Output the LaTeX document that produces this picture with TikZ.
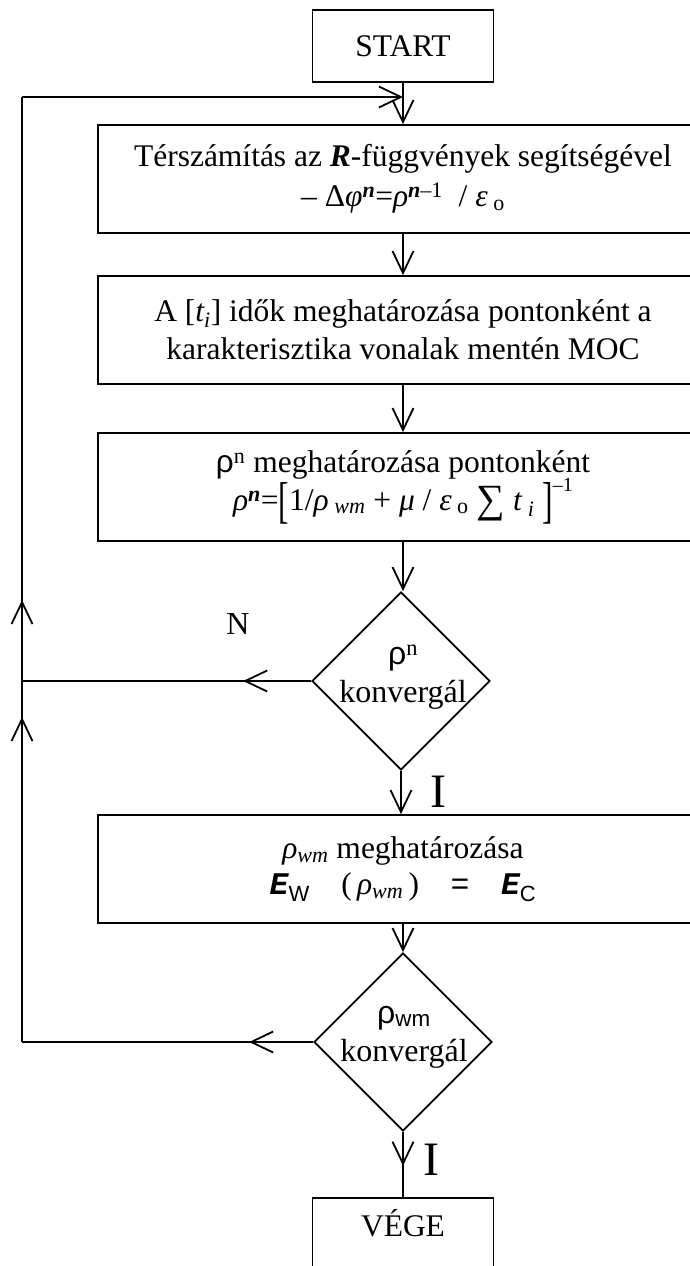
\documentclass[tikz,border=0pt]{standalone}
\usepackage{graphicx}
\usepackage{fontspec}
\setmainfont{Liberation Serif}
\setsansfont{Liberation Sans}
\setmonofont{Liberation Mono}
\usetikzlibrary{shapes.geometric,arrows.meta,decorations.markings}
\newcommand{\tallbr}[1]{\raisebox{-0.22em}{\scalebox{1}[1.6]{#1}}}
\begin{document}
\begin{tikzpicture}[x=1pt,y=-1pt,
  line width=1.8pt,
  >={Straight Barb[length=22pt,width=21pt]},
  txt/.style={font=\fontsize{32}{38}\selectfont, align=center, inner sep=0pt},
  stepbox/.style={draw, rectangle, minimum width=610pt, minimum height=108pt, inner sep=0pt, font=\fontsize{31.5}{38}\selectfont, align=center},
  termbox/.style={draw, rectangle, minimum width=181pt, minimum height=72pt, inner sep=0pt, font=\fontsize{31.5}{37}\selectfont, align=center},
  decbox/.style={draw, diamond, minimum width=178pt, minimum height=178pt, inner sep=0pt},
  midarrow/.style={postaction={decorate}, decoration={markings, mark=at position #1 with {\arrow{>}}}}
]
\useasboundingbox (0,0) rectangle (690,1266);
% terminals
\node[termbox] (start) at (403,46) {START};
\node[termbox, anchor=north, text height=22pt, text depth=16pt] (vege) at (403,1197) {VÉGE};
% process boxes
\node[stepbox] (b1) at (403,179) {Térszámítás az \textbf{\textit{R}}-függvények segítségével\\[2pt]
  –~Δ\textit{φ}\textsuperscript{\textbf{\textit{n}}}=\textit{ρ}\textsuperscript{\textbf{\textit{n}}–1}~~/~\textit{ε}\textsubscript{~o}};
\node[stepbox] (b2) at (403,330) {A [\textit{t\textsubscript{i}}] idők meghatározása pontonként a\\
  karakterisztika vonalak mentén MOC};
\node[stepbox] (b3) at (403,487) {{\sffamily ρ}\textsuperscript{n} meghatározása pontonként\\[-2pt]
  \textit{ρ}\textsuperscript{\textbf{\textit{n}}}=\tallbr{[}1/\textit{ρ}\textsubscript{~\textit{wm}} + \textit{μ} / \textit{ε}\textsubscript{~o}~{\fontsize{40}{40}\selectfont\raisebox{-0.05em}{∑}}~\textit{t}\textsubscript{~\textit{i}}~\tallbr{]}\raisebox{0.6em}{\fontsize{20}{20}\selectfont –1}};
\node[stepbox] (b4) at (403,869) {\textit{ρ\textsubscript{wm}} meghatározása\\[-2pt]
  {\bfseries\itshape\ttfamily E}\textsubscript{\sffamily W}\quad(\,\textit{ρ\textsubscript{wm}}\,)\quad{\ttfamily =}\quad{\bfseries\itshape\ttfamily E}\textsubscript{\sffamily C}};
% decisions
\node[decbox] (d1) at (401,681) {};
\node[txt] (d1t) at (403,677) {{\sffamily ρ}\textsuperscript{n}\\konvergál};
\node[decbox] (d2) at (403,1042) {};
\node[txt] (d2t) at (404,1037) {{\sffamily ρ\textsubscript{wm}}\\konvergál};
% labels
\node[txt] (lN) at (238,624) {N};
\node[txt, font=\fontsize{48}{48}\selectfont] (lI1) at (438,792) {I};
\node[txt, font=\fontsize{48}{48}\selectfont] (lI2) at (431,1160) {I};
% coordinates of the loop
\coordinate (TL) at (22,97);
\coordinate (J) at (start.south |- TL);
\coordinate (ML) at (d1.west -| TL);
\coordinate (BL) at (d2.west -| TL);
% main flow
\draw[->] (start) -- (b1);
\draw[->] (b1) -- (b2);
\draw[->] (b2) -- (b3);
\draw[->] (b3.south) -- (b3.south |- d1.north);
\draw[->] (d1.south) -- (d1.south |- b4.north);
\draw[->] (b4) -- (d2);
\draw[midarrow=0.52] (d2.south) -- (vege.north);
% loop back
\draw[midarrow=68pt] (d1.west) -- (ML);
\draw[midarrow=64pt] (d2.west) -- (BL);
\draw[midarrow=325pt] (BL) -- (ML);
\draw[midarrow=81pt] (ML) -- (TL);
\draw[->] (TL) -- (J);
\end{tikzpicture}
\end{document}
